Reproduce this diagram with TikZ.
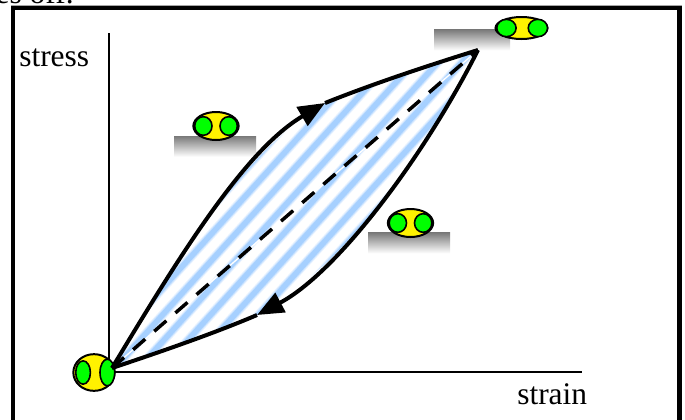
\documentclass[tikz,border=0pt]{standalone}
\usepackage{fontspec}
\setmainfont{Liberation Serif}
\usepackage{tikz}
\usetikzlibrary{shapes,arrows.meta}
\definecolor{stripeblue}{HTML}{A6D0FF}
\tikzset{
	x=0.75pt,y=-0.75pt,
	semithick,
	ball/.style = {ellipse, draw, line width=1.5pt, fill=yellow, inner sep=0pt},
	grain/.style = {ellipse, draw, line width=1.2pt, fill=green, inner sep=0pt},
	substrate/.style = {rectangle, inner sep=0pt, minimum width=61.5pt, minimum height=15.5pt,
		top color=black!52, bottom color=white},
	word/.style = {inner sep=0pt, font=\fontsize{23.6}{28}\selectfont},
	axis/.style = {line width=1.2pt},
	frame/.style = {line width=3.4pt},
	loop line/.style = {line width=3pt},
	tipped/.style = {-{Triangle[length=20pt,width=16pt]}},
}

\begin{document}
\begin{tikzpicture}
	\useasboundingbox (0,0) rectangle (685,419);
	% frame, runs off the bottom
	\draw[black!35, line width=1pt] (11,5.5) -- (682,5.5);
	\draw[frame] (13,430) -- (13,8) -- (679.5,8) -- (679.5,430);
	\node (Cut) [word, anchor=base east] at (74,3) {es off.};

	% axes
	\coordinate (Top) at (109,33);
	\coordinate (Corner) at (109,372);
	\coordinate (Right) at (582,372);
	\draw[axis] (Top) -- (Corner) -- (Right);
	\node (Stress) [word, anchor=base west] at (19,66) {stress};
	\node (Strain) [word, anchor=base west] at (517,404) {strain};

	% surfaces
	\node (SubA) [substrate] at (215,146.5) {};
	\node (SubB) [substrate, minimum width=57pt] at (472,40) {};
	\node (SubC) [substrate] at (409,243) {};

	% area between the two branches
	\begin{scope}
		\clip (112,368) .. controls (180,255) and (245,150) .. (325,103)
			.. controls (375,83) and (430,65) .. (478,50)
			.. controls (425,155) and (338,272) .. (257,315)
			.. controls (215,333) and (160,352) .. (112,368) -- cycle;
		\foreach \x in {-4,20,...,620} {
			\draw[stripeblue!25, line width=7pt] (\x,420) -- ++(360,-400);
			\draw[stripeblue!60, line width=5.5pt] (\x,420) -- ++(360,-400);
			\draw[stripeblue, line width=4pt] (\x,420) -- ++(360,-400);
		}
	\end{scope}

	% bottom ball
	\node (BallO) [ball, minimum width=31pt, minimum height=27.5pt] at (94,372.5) {};
	\node (GrainOl) [grain, left of = BallO, node distance=8.2pt, minimum width=11pt, minimum height=17.5pt] {};
	\node (GrainOr) [grain, right of = BallO, node distance=10pt, minimum width=11pt, minimum height=20pt] {};

	\coordinate (Start) at (112,368);
	\coordinate (Peak) at (478,50);
	\coordinate (UpTip) at (325,103);
	\coordinate (LowTip) at (257,315);
	\draw[white, line width=1pt] (Start) -- (Peak);
	\draw[line width=2.6pt, dash pattern=on 12pt off 9pt] (Start) -- (Peak);
	\draw[loop line, tipped] (Start) .. controls (180,255) and (245,150) .. (UpTip);
	\draw[loop line] (UpTip) .. controls (375,83) and (430,65) .. (Peak);
	\draw[loop line, tipped] (Peak) .. controls (425,155) and (338,272) .. (LowTip);
	\draw[loop line] (LowTip) .. controls (215,333) and (160,352) .. (Start);

	% balls on the surfaces
	\node (BallA) [ball, minimum width=34pt, minimum height=21pt] at (216,126) {};
	\node (GrainAl) [grain, left of = BallA, node distance=9.5pt, minimum width=13pt, minimum height=14pt] {};
	\node (GrainAr) [grain, right of = BallA, node distance=9.5pt, minimum width=13pt, minimum height=14pt] {};
	\node (BallB) [ball, minimum width=39pt, minimum height=16.5pt] at (521.5,28) {};
	\node (GrainBl) [grain, left of = BallB, node distance=11.3pt, minimum width=14.5pt, minimum height=13pt] {};
	\node (GrainBr) [grain, right of = BallB, node distance=12.3pt, minimum width=14.5pt, minimum height=13pt] {};
	\node (BallC) [ball, minimum width=34pt, minimum height=21pt] at (410.5,223) {};
	\node (GrainCl) [grain, left of = BallC, node distance=9.5pt, minimum width=13pt, minimum height=14pt] {};
	\node (GrainCr) [grain, right of = BallC, node distance=9.5pt, minimum width=13pt, minimum height=14pt] {};
\end{tikzpicture}
\end{document}
